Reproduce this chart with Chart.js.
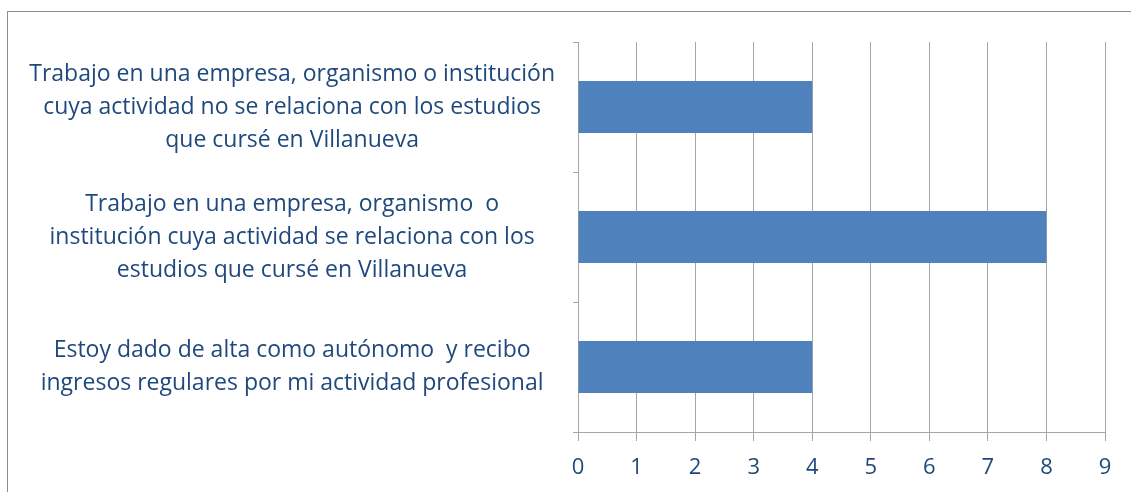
<!DOCTYPE html>
<html>
<head>
<meta charset="utf-8">
<script src="https://cdn.jsdelivr.net/npm/chart.js@4.4.0/dist/chart.umd.min.js"></script>
<style>
  html, body { margin: 0; padding: 0; background: #fff; overflow: hidden; }
  #frame { position: absolute; left: 7px; top: 11px; width: 1200px; height: 560px; border: 1px solid #8c8c8c; }
  #wrap { position: absolute; left: 9px; top: 13px; }
</style>
</head>
<body>
<div id="frame"></div>
<div id="wrap"><canvas id="chart" width="1122" height="479"></canvas></div>
<script>
// categorías (de arriba a abajo)
const categories = [
    ['Trabajo en una empresa, organismo o institución', 'cuya actividad no se relaciona con los estudios', 'que cursé en Villanueva'],
    ['Trabajo en una empresa, organismo  o', 'institución cuya actividad se relaciona con los', 'estudios que cursé en Villanueva'],
    ['Estoy dado de alta como autónomo  y recibo', 'ingresos regulares por mi actividad profesional'],
];

// número de respuestas
const values = [4, 8, 4];

// eje x
const xMin = 0;
const xMax = 9;
const xStep = 1;

const textColor = '#1F497D';
const barColor = '#4F81BD';
const gridColor = '#a6a6a6';
const labelFont = { family: 'Open Sans', size: 23, lineHeight: '33px' };

const ctx = document.getElementById('chart').getContext('2d');

new Chart(ctx, {
    type: 'bar',
    data: {
        labels: categories,
        datasets: [{
            data: values,
            backgroundColor: barColor,
            borderWidth: 0,
            barPercentage: 0.4,
            categoryPercentage: 1,
        }],
    },
    options: {
        indexAxis: 'y',
        responsive: false,
        animation: false,
        layout: { padding: { top: 29, right: 26, bottom: 12, left: 0 } },
        plugins: {
            legend: { display: false },
            tooltip: { enabled: false },
        },
        scales: {
            x: {
                min: xMin,
                max: xMax,
                ticks: {
                    stepSize: xStep,
                    color: textColor,
                    font: { family: 'Open Sans', size: 22 },
                    padding: 14,
                },
                grid: { color: gridColor, lineWidth: 1, tickLength: 9 },
                border: { color: gridColor },
                afterFit: (s) => { s.height = 48; s.paddingLeft = 0; s.paddingRight = 0; },
            },
            y: {
                ticks: {
                    color: textColor,
                    font: labelFont,
                    crossAlign: 'center',
                    padding: 18,
                    autoSkip: false,
                },
                grid: { drawOnChartArea: false, color: gridColor, tickLength: 5, offset: true },
                border: { color: gridColor },
                afterFit: (s) => { s.width = 569; s.paddingTop = 0; s.paddingBottom = 0; },
            },
        },
    },
});
</script>
</body>
</html>
